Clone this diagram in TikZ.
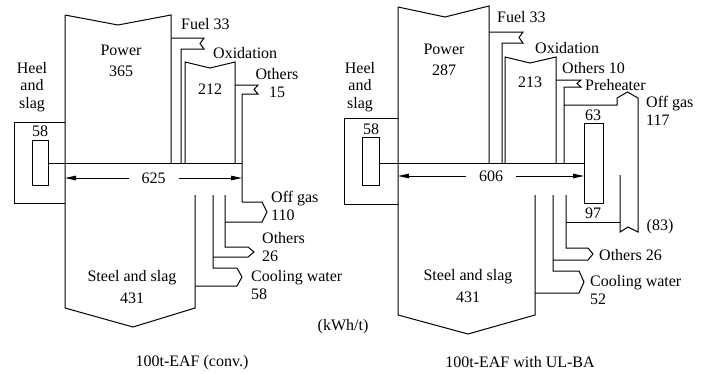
\documentclass[tikz,border=0pt]{standalone}
\usepackage{fontspec}
\setmainfont{Liberation Serif}
\usepackage{tikz}
\usetikzlibrary{arrows.meta}
\tikzset{
  flujo/.style={
    draw=black,
    line width=1pt,
    line join=miter
  },
  etiqueta/.style={
    inner sep=0pt,
    align=center,
    font=\fontsize{16}{17.5}\selectfont
  },
  cota/.style={
    {Triangle[length=11pt,width=4.5pt]}-{Triangle[length=11pt,width=4.5pt]},
    line width=1pt
  }
}

\begin{document}
\begin{tikzpicture}[x=1pt,y=-1pt]
\useasboundingbox (0,0) rectangle (709,373);
% 100t-EAF (conv.)
\draw[flujo] (65,15) -- (118,25) -- (171,15) -- (171,163);
\draw[flujo] (65,15) -- (65,308) -- (133,327) -- (195,308) -- (195,195);
\draw[flujo] (65,122) -- (14,122) -- (14,203) -- (65,203);
\draw[flujo] (32,140) rectangle (48,185);
\draw[flujo] (48,163) -- (242,163);
\draw[flujo] (171,38) -- (204,38) -- (200,43.5) -- (204,49) -- (181,49) -- (181,163);
\draw[flujo] (185,163) -- (185,62) -- (210,68) -- (235,62) -- (235,163);
\draw[flujo] (235,85) -- (258,85) -- (254,89.5) -- (258,94) -- (242,94) -- (242,202);
\draw[flujo] (242,202) -- (262,202) -- (267,212) -- (262,222) -- (225,222);
\draw[flujo] (225,195) -- (225,247) -- (248,247) -- (254,252) -- (248,257) -- (213,257);
\draw[flujo] (213,195) -- (213,268) -- (237,268) -- (242,277) -- (237,286) -- (195,286);
\coordinate (cotaL1) at (65,178);
\coordinate (cotaL2) at (242,178);
\draw[cota] (cotaL1) -- (cotaL2) node[etiqueta, midway, fill=white, inner xsep=13pt] (totL) {625};

\node[etiqueta] (heelL) at (32,87) {Heel\\and\\slag};
\node[etiqueta] (heelvL) at (40,131) {58};
\node[etiqueta] (powL) at (121,61) {Power\\[4pt]365};
\node[etiqueta, anchor=west] (fuelL) at (181,24) {Fuel 33};
\node[etiqueta, anchor=west] (oxL) at (213,53) {Oxidation};
\node[etiqueta] (oxvL) at (210,89) {212};
\node[etiqueta] (othL) at (277,83) {Others\\15};
\node[etiqueta, anchor=west, align=left] (gasL) at (271,206) {Off gas\\110};
\node[etiqueta, anchor=west, align=left] (oth2L) at (262,247) {Others\\26};
\node[etiqueta, anchor=west, align=left] (cwL) at (251,285) {Cooling water\\58};
\node[etiqueta] (steelL) at (132,287) {Steel and slag\\[4pt]431};
\node[etiqueta] (unit) at (343,327) {(kWh/t)};
\node[etiqueta] (titL) at (192,363) {100t-EAF (conv.)};

% 100t-EAF with UL-BA
\draw[flujo] (398,7) -- (445,17) -- (489,6) -- (489,163);
\draw[flujo] (398,7) -- (398,315) -- (468,334) -- (535,315) -- (535,195);
\draw[flujo] (398,118) -- (344,118) -- (344,204) -- (398,204);
\draw[flujo] (362,137) rectangle (379,185);
\draw[flujo] (379,163) -- (584,163);
\draw[flujo] (489,32) -- (523,32) -- (519,37.5) -- (523,43) -- (502,43) -- (502,163);
\draw[flujo] (505,163) -- (505,57) -- (530,63) -- (556,57) -- (556,163);
\draw[flujo] (556,80) -- (581,80) -- (577,83.5) -- (581,87) -- (564,87) -- (564,163);
\draw[flujo] (564,105) -- (617,105) -- (617,98) -- (627.5,92) -- (638,98) -- (638,232) -- (628,227) -- (620,232) -- (620,175);
\draw[flujo] (584,123) rectangle (603,203);
\draw[flujo] (566,195) -- (566,248) -- (588,248) -- (593,254) -- (588,260) -- (553,260);
\draw[flujo] (553,195) -- (553,271) -- (579,271) -- (584,282) -- (579,293) -- (535,293);
\draw[flujo] (566,222) -- (620,222);
\coordinate (cotaR1) at (398,176);
\coordinate (cotaR2) at (584,176);
\draw[cota] (cotaR1) -- (cotaR2) node[etiqueta, midway, fill=white, inner xsep=13pt] (totR) {606};

\node[etiqueta] (heelR) at (360,87) {Heel\\and\\slag};
\node[etiqueta] (heelvR) at (371,129) {58};
\node[etiqueta] (powR) at (444,60) {Power\\[4pt]287};
\node[etiqueta, anchor=west] (fuelR) at (497,17) {Fuel 33};
\node[etiqueta, anchor=west] (oxR) at (535,48) {Oxidation};
\node[etiqueta] (oxvR) at (530,82) {213};
\node[etiqueta, anchor=west] (othR) at (562,68) {Others 10};
\node[etiqueta, anchor=west] (preR) at (585,85) {Preheater};
\node[etiqueta] (preinR) at (593,115) {63};
\node[etiqueta] (preoutR) at (593,213) {97};
\node[etiqueta, anchor=west, align=left] (gasR) at (646,111) {Off gas\\117};
\node[etiqueta] (recR) at (660,227) {(83)};
\node[etiqueta, anchor=west] (oth2R) at (599,255) {Others 26};
\node[etiqueta, anchor=west, align=left] (cwR) at (590,290) {Cooling water\\52};
\node[etiqueta] (steelR) at (468,286) {Steel and slag\\[4pt]431};
\node[etiqueta] (titR) at (520,362) {100t-EAF with UL-BA};
\end{tikzpicture}
\end{document}
